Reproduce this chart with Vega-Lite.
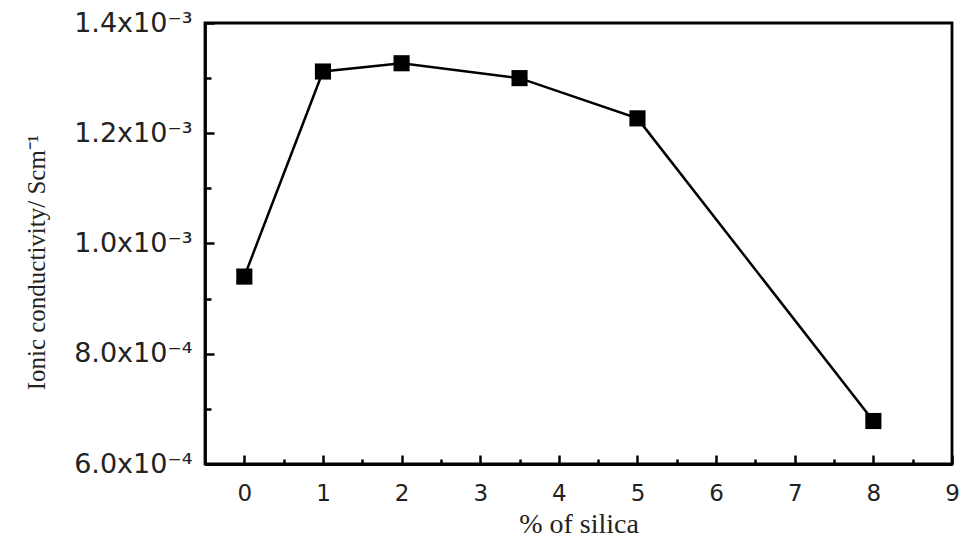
{
  "$schema": "https://vega.github.io/schema/vega-lite/v6.json",
  "autosize": "none",
  "width": 747,
  "height": 441,
  "padding": {"left": 205, "top": 23, "right": 10, "bottom": 76},
  "background": "white",
  "config": {
    "view": {"stroke": "black", "strokeWidth": 2.8},
    "axis": {"grid": false, "domainColor": "black", "domainWidth": 2.8, "tickColor": "black", "tickWidth": 2.5, "labelColor": "#222", "titleColor": "#222"}
  },
  "data": {
    "values": [
      {"silica": 0, "conductivity": 0.00094},
      {"silica": 1, "conductivity": 0.001312},
      {"silica": 2, "conductivity": 0.001327},
      {"silica": 3.5, "conductivity": 0.0013},
      {"silica": 5, "conductivity": 0.001227},
      {"silica": 8, "conductivity": 0.000678}
    ]
  },
  "encoding": {
    "x": {
      "field": "silica", "type": "quantitative",
      "scale": {"domain": [-0.5, 9], "nice": false, "zero": false},
      "axis": {
        "title": "% of silica",
        "titleFont": "Liberation Serif", "titleFontSize": 28, "titleFontWeight": "normal", "titlePadding": 1,
        "values": [0, 0.5, 1, 1.5, 2, 2.5, 3, 3.5, 4, 4.5, 5, 5.5, 6, 6.5, 7, 7.5, 8, 8.5, 9],
        "labelExpr": "datum.value % 1 == 0 ? format(datum.value, 'd') : ''",
        "labelFont": "DejaVu Sans", "labelFontSize": 23, "labelPadding": 27,
        "tickSize": {"condition": {"test": "datum.value % 1 == 0", "value": -9}, "value": -5},
        "labelFlush": false, "labelOverlap": false
      }
    },
    "y": {
      "field": "conductivity", "type": "quantitative",
      "scale": {"domain": [0.0006, 0.0014], "nice": false, "zero": false},
      "axis": {
        "title": "Ionic conductivity/ Scm⁻¹",
        "titleFont": "Liberation Serif", "titleFontSize": 25, "titleFontWeight": "normal", "titlePadding": 24,
        "titleY": 239,
        "values": [0.0006, 0.0007, 0.0008, 0.0009, 0.001, 0.0011, 0.0012, 0.0013, 0.0014],
        "labelExpr": "round(datum.value * 10000) % 2 == 0 ? (datum.value >= 0.00095 ? format(datum.value * 1000, '.1f') + 'x10⁻³' : format(datum.value * 10000, '.1f') + 'x10⁻⁴') : ''",
        "labelFont": "DejaVu Sans", "labelFontSize": 27, "labelPadding": 22,
        "tickSize": {"condition": {"test": "round(datum.value * 10000) % 2 == 0", "value": -9}, "value": -6},
        "labelFlush": false, "labelOverlap": false
      }
    }
  },
  "layer": [
    {"mark": {"type": "line", "color": "black", "strokeWidth": 2.5}},
    {"mark": {"type": "point", "shape": "square", "filled": true, "color": "black", "size": 260, "opacity": 1}}
  ]
}
